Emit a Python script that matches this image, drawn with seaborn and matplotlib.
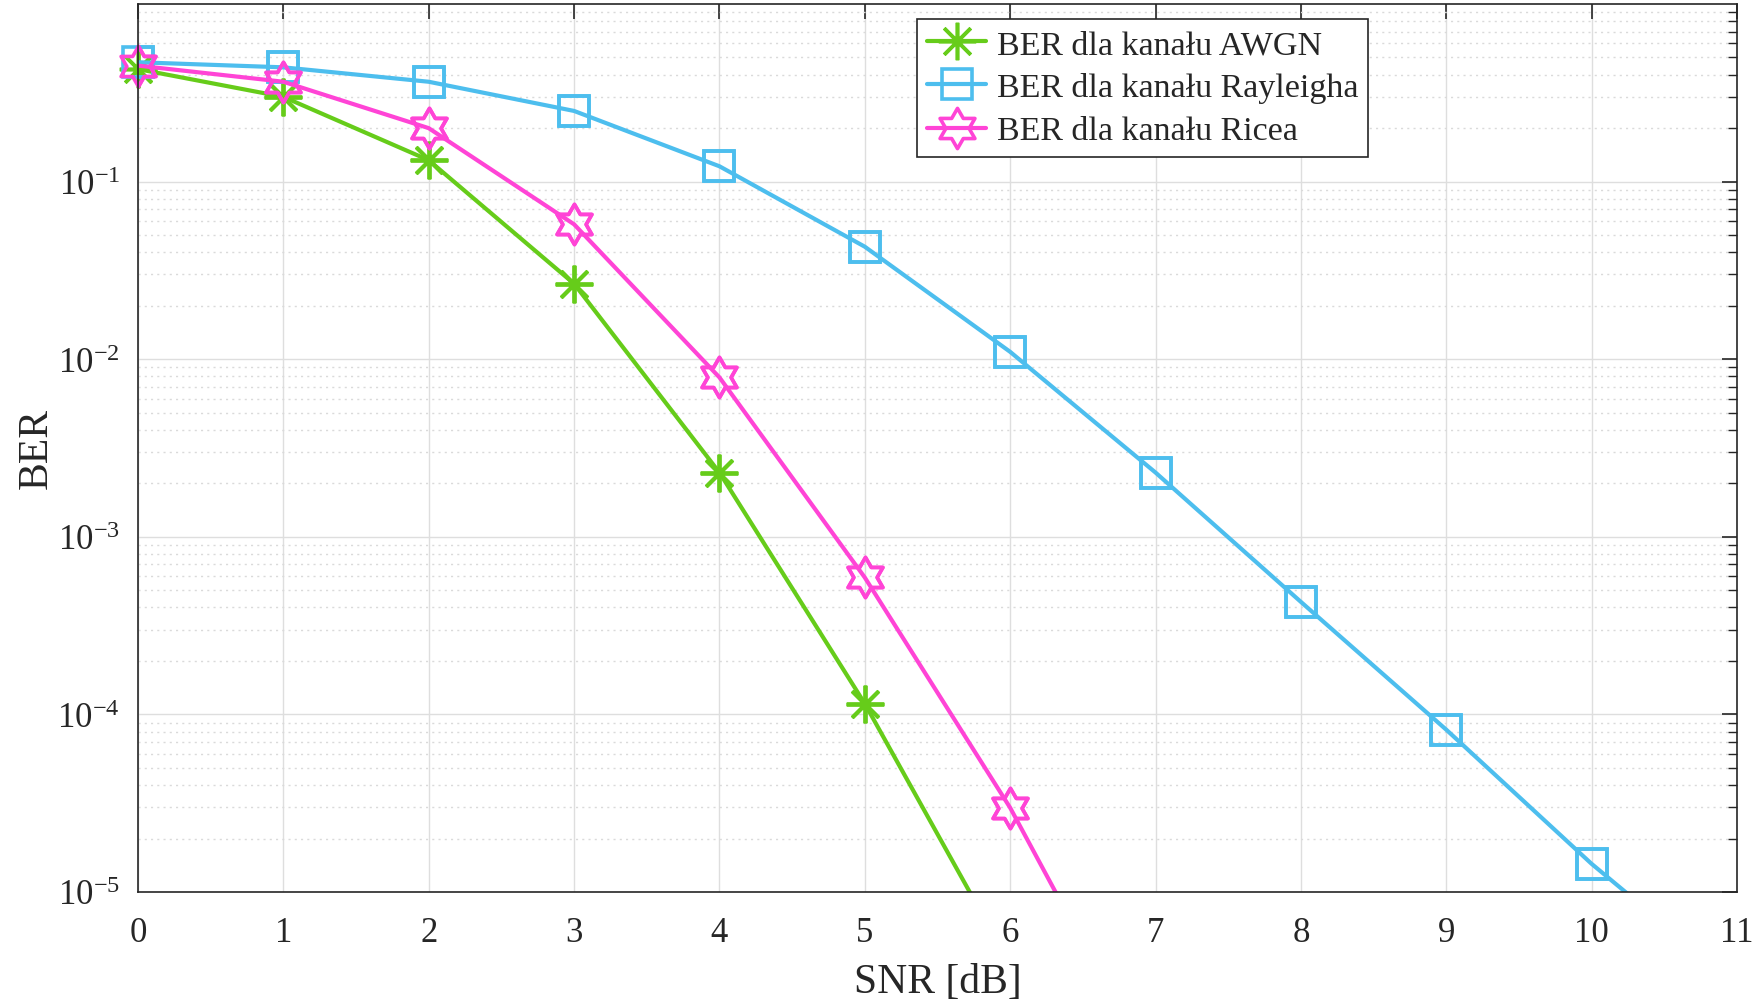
import numpy as np
import matplotlib
matplotlib.use("Agg")
import matplotlib.pyplot as plt
import seaborn as sns
from matplotlib.path import Path
from matplotlib.ticker import LogLocator, LogFormatterMathtext, NullFormatter

# Dane
snr = [0, 1, 2, 3, 4, 5, 6, 7, 8, 9, 10, 11]
snr_awgn = [0, 1, 2, 3, 4, 5, 6]
ber_awgn = [0.43, 0.30, 0.132, 0.0266, 0.0023, 1.15e-4, 3.9e-6]
ber_rayleigh = [0.47, 0.44, 0.365, 0.25, 0.122, 0.043, 0.011, 0.0023,
                4.3e-4, 8.2e-5, 1.44e-5, 3.0e-6]
snr_rice = [0, 1, 2, 3, 4, 5, 6, 7]
ber_rice = [0.45, 0.365, 0.20, 0.0575, 0.0079, 5.9e-4, 2.98e-5, 9e-7]

labels = ["BER dla kanału AWGN", "BER dla kanału Rayleigha", "BER dla kanału Ricea"]
colors = ["#66CC1A", "#4DBEEE", "#FF44D6"]

# Heksagram (gwiazda sześcioramienna) jako marker
ang = np.pi / 2 + np.arange(12) * np.pi / 6
rad = np.where(np.arange(12) % 2 == 0, 1.0, 1 / np.sqrt(3))
verts = np.column_stack([rad * np.cos(ang), rad * np.sin(ang)])
verts = np.vstack([verts, verts[:1]])
hexagram = Path(verts, [Path.MOVETO] + [Path.LINETO] * 11 + [Path.CLOSEPOLY])

sns.set_theme(style="white")
plt.rcParams["font.family"] = ["Liberation Serif", "DejaVu Serif"]
plt.rcParams["mathtext.fontset"] = "custom"
plt.rcParams["mathtext.rm"] = "Liberation Serif"
plt.rcParams["mathtext.it"] = "Liberation Serif:italic"
plt.rcParams["mathtext.bf"] = "Liberation Serif:bold"

fig = plt.figure(figsize=(17.62, 10.03), dpi=100)
ax = fig.add_axes([0.0783, 0.1097, 0.9075, 0.8853])
ax.set_yscale("log")

series = [
    (snr_awgn, ber_awgn, dict(marker=(8, 2, 0), markersize=27)),
    (snr, ber_rayleigh, dict(marker="s", markersize=21, markerfacecolor="none")),
    (snr_rice, ber_rice, dict(marker=hexagram, markersize=29, markerfacecolor="none")),
]

for (x, y, mk), col, lab in zip(series, colors, labels):
    sns.lineplot(x=x, y=y, ax=ax, color=col, label=lab, linewidth=3.0,
                 markeredgecolor=col, markeredgewidth=2.6, **mk)
    # markery na krawędziach osi nie są obcinane (jak w MATLAB)
    xs = [a for a, b in zip(x, y) if b >= 1e-5]
    ys = [b for b in y if b >= 1e-5]
    sns.lineplot(x=xs, y=ys, ax=ax, color=col, linestyle="none", clip_on=False,
                 markeredgecolor=col, markeredgewidth=2.6, legend=False, **mk)

ax.set_xlim(0, 11)
ax.set_xticks(range(0, 12))
ax.yaxis.set_major_locator(LogLocator(base=10, numticks=10))
ax.yaxis.set_major_formatter(LogFormatterMathtext())
ax.yaxis.set_minor_locator(LogLocator(base=10, subs=np.arange(2, 10), numticks=20))
ax.yaxis.set_minor_formatter(NullFormatter())
ax.set_yticks([1e-5, 1e-4, 1e-3, 1e-2, 1e-1])
ax.set_ylim(1e-5, 1)

ax.grid(True, which="major", color="#DEDEDE", linestyle="-", linewidth=1.0)
ax.grid(True, which="minor", axis="y", color="#DADADA", linestyle=(0, (1.5, 3)), linewidth=1.0)
ax.set_axisbelow(True)

ax.tick_params(axis="both", which="both", direction="in", top=True, right=True,
               colors="#262626", labelcolor="#262626")
ax.tick_params(axis="both", which="major", length=11, width=1.2, labelsize=25)
ax.tick_params(axis="x", which="major", pad=17)
ax.tick_params(axis="y", which="major", pad=13)
ax.tick_params(axis="y", which="minor", length=6.5, width=1.0)
for sp in ax.spines.values():
    sp.set_color("#262626")
    sp.set_linewidth(1.2)

ax.set_xlabel("SNR [dB]", fontsize=30, color="#262626", labelpad=10)
ax.set_ylabel("BER", fontsize=30, color="#262626", labelpad=1)

leg = ax.legend(loc="upper left", bbox_to_anchor=(0.487, 0.983), borderaxespad=0,
                fontsize=24.5, frameon=True, fancybox=False, edgecolor="#262626",
                framealpha=1, handlelength=1.75, handletextpad=0.3, labelspacing=0.36,
                borderpad=0.3)
leg.get_frame().set_linewidth(1.2)

fig.savefig("out.png", dpi=100)
plt.close(fig)
